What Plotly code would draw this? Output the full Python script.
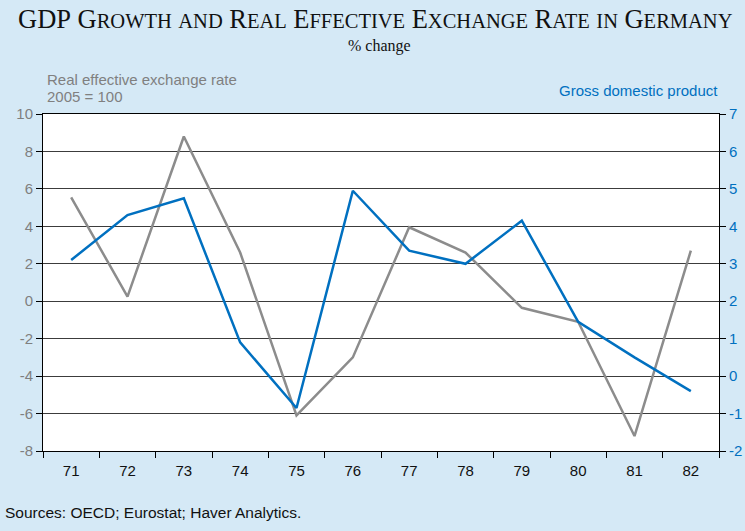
import plotly.graph_objects as go

years = ["71", "72", "73", "74", "75", "76", "77", "78", "79", "80", "81", "82"]
reer = [5.55, 0.25, 8.8, 2.6, -6.1, -3.0, 3.95, 2.6, -0.35, -1.1, -7.2, 2.7]
gdp = [3.1, 4.3, 4.75, 0.9, -0.85, 4.95, 3.35, 3.0, 4.15, 1.45, 0.5, -0.4]

left_ticks = list(range(-8, 11, 2))
right_ticks = list(range(-2, 8))

GRAY = "#8c8c8c"
BLUE = "#0070c0"
BG = "#d5e9f6"
SANS = "Liberation Sans, Arial, sans-serif"
SERIF = "Liberation Serif, Times New Roman, serif"


def small_caps(text, big=26.5, small=20.5):
    """Fake small caps: first letter of each word large, the rest smaller."""
    out = []
    for word in text.split(" "):
        first, rest = word[0], word[1:]
        if word.isupper() and len(word) <= 3:
            out.append(f"<span style='font-size:{big}px'>{word}</span>")
        elif first.isupper():
            out.append(f"<span style='font-size:{big}px'>{first}</span>"
                       f"<span style='font-size:{small}px'>{rest.upper()}</span>")
        else:
            out.append(f"<span style='font-size:{small}px'>{word.upper()}</span>")
    return " ".join(out)


fig = go.Figure()
fig.add_trace(go.Scatter(x=years, y=reer, mode="lines", name="REER",
                         line=dict(color=GRAY, width=2.5), yaxis="y"))
fig.add_trace(go.Scatter(x=years, y=gdp, mode="lines", name="GDP",
                         line=dict(color=BLUE, width=2.5), yaxis="y2"))

W, H = 745, 531
L, R, T, B = 43, 26, 114, 80

fig.update_layout(
    width=W, height=H,
    paper_bgcolor=BG, plot_bgcolor="white",
    showlegend=False,
    margin=dict(l=L, r=R, t=T, b=B, autoexpand=False),
    font=dict(family=SANS, size=14, color="#222"),
    xaxis=dict(
        type="category", range=[-0.5, 11.5], showgrid=False, showline=True,
        linecolor="black", linewidth=1, mirror=True, ticks="outside",
        tickson="boundaries", ticklen=6, tickcolor="black",
        ticklabelstandoff=6,
        tickfont=dict(size=15, color="#111"), automargin=False,
    ),
    yaxis=dict(
        range=[-8, 10], tickvals=left_ticks,
        ticktext=[str(v) for v in left_ticks],
        showgrid=True, gridcolor="#3c3c3c",
        gridwidth=1, zeroline=False, showline=True, linecolor="black",
        linewidth=1, ticks="outside", ticklen=6, tickcolor="black",
        tickfont=dict(size=15, color="#7f7f7f"), automargin=False,
    ),
    yaxis2=dict(
        range=[-2, 7], tickvals=right_ticks,
        ticktext=[str(v) for v in right_ticks],
        overlaying="y", side="right",
        showgrid=False, zeroline=False, showline=True, linecolor="black",
        linewidth=1, ticks="outside", ticklen=6, tickcolor="black",
        tickfont=dict(size=15, color=BLUE), automargin=False,
    ),
)

annotations = [
    dict(text=small_caps("GDP Growth and Real Effective Exchange Rate in Germany"),
         font=dict(family=SERIF, size=26, color="#111"), x=W / 2 + 3, y=19),
    dict(text="% change", font=dict(family=SERIF, size=16, color="#111"),
         x=W / 2 + 7, y=46),
    dict(text="Real effective exchange rate", font=dict(size=15, color="#808080"),
         x=45, y=79, xanchor="left"),
    dict(text="2005 = 100", font=dict(size=15, color="#808080"),
         x=45, y=97, xanchor="left"),
    dict(text="Gross domestic product", font=dict(size=15, color=BLUE),
         x=720, y=90, xanchor="right"),
    dict(text="Sources: OECD; Eurostat; Haver Analytics.",
         font=dict(size=15.5, color="#111"), x=3, y=512, xanchor="left"),
]
# annotation positions above are pixels from the top-left of the page
pw, ph = W - L - R, H - T - B
for a in annotations:
    a["x"] = (a["x"] - L) / pw
    a["y"] = (H - B - a["y"]) / ph
    a["xref"] = "paper"
    a["yref"] = "paper"
    a.setdefault("xanchor", "center")
    a["yanchor"] = "middle"
    a["showarrow"] = False
fig.update_layout(annotations=annotations)

# drop the default page margin so the figure fills the window
fig.write_html(
    "out.html",
    config={"displayModeBar": False},
    post_script="document.body.style.margin='0';"
                "document.body.style.overflow='hidden';",
)
